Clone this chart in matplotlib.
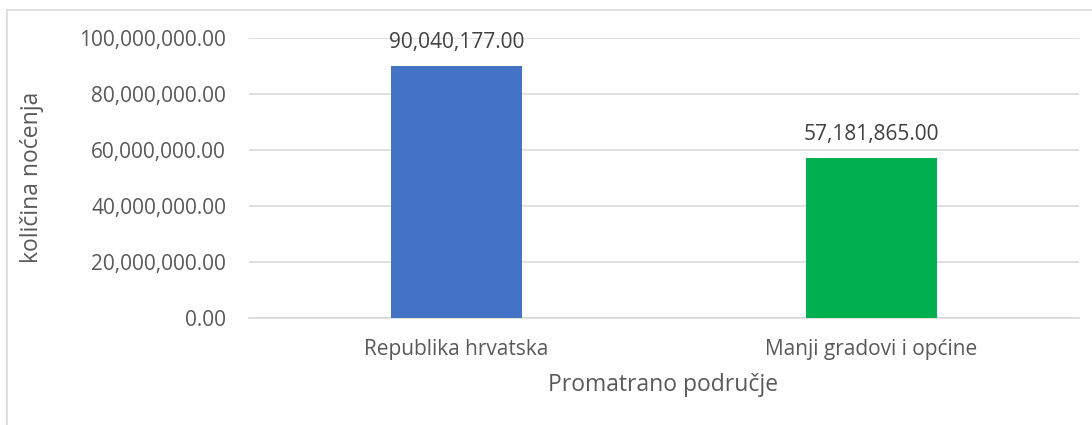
import matplotlib

matplotlib.use("Agg")

import matplotlib.pyplot as plt
from matplotlib.lines import Line2D
from matplotlib.ticker import FuncFormatter

categories = ["Republika hrvatska", "Manji gradovi i općine"]
values     = [90040177.00, 57181865.00]
colors     = ["#4472C4", "#00B050"]
y_ticks    = [0, 20000000, 40000000, 60000000, 80000000, 100000000]

TEXT_COLOR = "#595959"
GRID_COLOR = "#D9D9D9"

plt.rcParams["font.family"] = ["Open Sans", "DejaVu Sans"]

figure = plt.figure(figsize=(10.92, 4.25), dpi=100)
axis   = figure.add_axes([249 / 1092, 1 - 318 / 425, 830 / 1092, 280 / 425])

positions = list(range(len(categories)))
bars = axis.bar(positions, values, width=0.316, color=colors, zorder=3)

for bar, value in zip(bars, values):
    axis.annotate(f"{value:,.2f}", (bar.get_x() + bar.get_width() / 2, value),
                  xytext=(0, 9), textcoords="offset points", ha="center", va="bottom",
                  fontsize=15, color="#404040")

axis.set_xlim(-0.5, len(categories) - 0.5)
axis.set_ylim(0, 100000000)
axis.set_yticks(y_ticks)
axis.yaxis.set_major_formatter(FuncFormatter(lambda v, _: f"{v:,.2f}"))
axis.set_xticks(positions)
axis.set_xticklabels(categories)
axis.tick_params(axis="both", length=0, labelsize=15, labelcolor=TEXT_COLOR)
axis.tick_params(axis="y", pad=16.5)
axis.tick_params(axis="x", pad=15)
axis.grid(axis="y", color=GRID_COLOR, linewidth=1.2, zorder=0)
for side in ("top", "right", "left"):
    axis.spines[side].set_visible(False)
axis.spines["bottom"].set_color(GRID_COLOR)
axis.spines["bottom"].set_linewidth(1.2)

axis.set_ylabel("količina noćenja", fontsize=16.5, color=TEXT_COLOR)
axis.set_xlabel("Promatrano područje", fontsize=16.5, color=TEXT_COLOR)
axis.yaxis.set_label_coords(44 / 1092, 1 - 177 / 425, transform=figure.transFigure)
axis.xaxis.set_label_coords(663 / 1092, 1 - 373 / 425, transform=figure.transFigure)

figure.add_artist(Line2D([7 / 1092, 7 / 1092], [0, 1 - 10 / 425], color=GRID_COLOR, linewidth=1.2))
figure.add_artist(Line2D([7 / 1092, 1], [1 - 10 / 425, 1 - 10 / 425], color=GRID_COLOR, linewidth=1.2))

figure.savefig("out.png", dpi=100)
